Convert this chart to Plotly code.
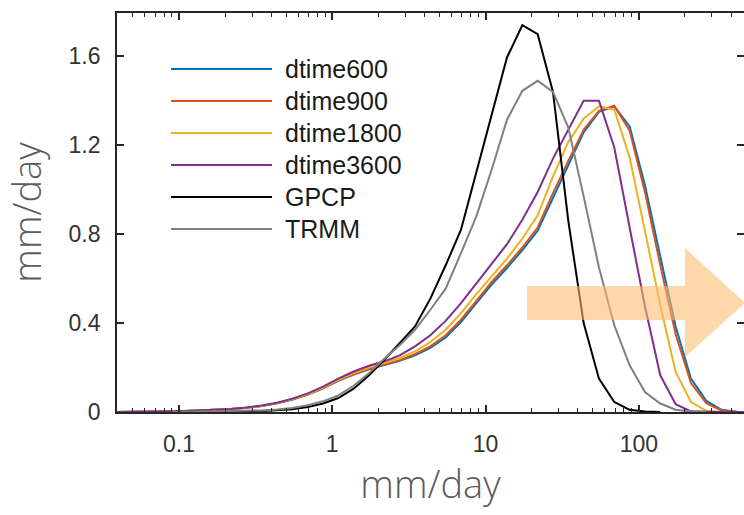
import plotly.graph_objects as go

# ---------------- data ----------------
rain_bins = [0.0347, 0.0437, 0.0550, 0.0692, 0.0871, 0.1096, 0.1380, 0.1738, 0.2188, 0.2754,
             0.3467, 0.4365, 0.5495, 0.6918, 0.8710, 1.096, 1.380, 1.738, 2.188, 2.754,
             3.467, 4.365, 5.495, 6.918, 8.710, 10.96, 13.80, 17.38, 21.88, 27.54,
             34.67, 43.65, 54.95, 69.18, 87.10, 109.6, 138.0, 173.8, 218.8, 275.4,
             346.7, 436.5, 549.5]

dtime600 = [0.000, 0.000, 0.001, 0.002, 0.003, 0.004, 0.006, 0.009, 0.013, 0.019,
            0.027, 0.039, 0.056, 0.078, 0.106, 0.140, 0.168, 0.192, 0.210, 0.230,
            0.255, 0.288, 0.335, 0.405, 0.490, 0.573, 0.648, 0.728, 0.815, 0.965,
            1.115, 1.258, 1.350, 1.375, 1.285, 1.020, 0.700, 0.385, 0.150, 0.050,
            0.010, 0.001, 0.000]
dtime900 = [0.000, 0.000, 0.001, 0.002, 0.003, 0.004, 0.006, 0.009, 0.013, 0.019,
            0.027, 0.039, 0.056, 0.079, 0.107, 0.142, 0.170, 0.194, 0.212, 0.233,
            0.260, 0.295, 0.345, 0.415, 0.500, 0.585, 0.660, 0.740, 0.830, 0.985,
            1.130, 1.270, 1.355, 1.378, 1.265, 0.990, 0.660, 0.350, 0.130, 0.040,
            0.007, 0.000, 0.000]
dtime1800 = [0.000, 0.000, 0.001, 0.002, 0.003, 0.004, 0.006, 0.009, 0.013, 0.019,
             0.027, 0.040, 0.058, 0.081, 0.110, 0.145, 0.175, 0.200, 0.220, 0.243,
             0.272, 0.315, 0.370, 0.445, 0.530, 0.610, 0.690, 0.780, 0.885, 1.060,
             1.215, 1.320, 1.375, 1.360, 1.145, 0.815, 0.480, 0.180, 0.045, 0.005,
             0.000, 0.000, 0.000]
dtime3600 = [0.000, 0.000, 0.001, 0.002, 0.003, 0.005, 0.007, 0.010, 0.014, 0.020,
             0.029, 0.042, 0.060, 0.084, 0.114, 0.150, 0.182, 0.208, 0.228, 0.255,
             0.295, 0.345, 0.410, 0.490, 0.580, 0.665, 0.755, 0.865, 0.990, 1.140,
             1.270, 1.400, 1.400, 1.190, 0.830, 0.476, 0.165, 0.035, 0.003, 0.000,
             0.000, 0.000, 0.000]
gpcp = [None, None, None, None, 0.000, 0.000, 0.001, 0.001, 0.002, 0.002,
        0.004, 0.007, 0.012, 0.022, 0.038, 0.063, 0.105, 0.165, 0.235, 0.310,
        0.385, 0.510, 0.660, 0.820, 1.080, 1.340, 1.595, 1.740, 1.700, 1.440,
        0.860, 0.400, 0.150, 0.045, 0.010, 0.002, 0.000, None, None, None,
        None, None, None]
trmm = [None, None, None, None, 0.000, 0.001, 0.001, 0.002, 0.003, 0.004,
        0.007, 0.011, 0.018, 0.030, 0.048, 0.075, 0.118, 0.175, 0.240, 0.300,
        0.370, 0.460, 0.555, 0.715, 0.880, 1.090, 1.315, 1.445, 1.490, 1.440,
        1.280, 0.970, 0.650, 0.390, 0.210, 0.090, 0.038, 0.010, 0.002, 0.000,
        None, None, None]

series_names = ["dtime600", "dtime900", "dtime1800", "dtime3600", "GPCP", "TRMM"]
series_values = [dtime600, dtime900, dtime1800, dtime3600, gpcp, trmm]
series_colors = ["#0072BD", "#D95319", "#EDB120", "#7E2F8E", "#000000", "#808080"]

x_tick_vals = [0.1, 1, 10, 100]
x_tick_text = ["0.1", "1", "10", "100"]
y_tick_vals = [0, 0.4, 0.8, 1.2, 1.6]
y_tick_text = ["0", "0.4", "0.8", "1.2", "1.6"]
axis_title = "mm/day"

# ---------------- figure ----------------
W, H = 744, 515
ML, MR, MT, MB = 117, 0, 13, 103

fig = go.Figure()
for name, vals, col in zip(series_names, series_values, series_colors):
    fig.add_trace(go.Scatter(x=rain_bins, y=vals, mode="lines", name=name,
                             line=dict(color=col, width=2), showlegend=False,
                             hoverinfo="x+y+name"))

axis_col = "#262626"
tick_font = dict(family="Liberation Sans, Arial, sans-serif", size=23, color="#333333")
title_font = dict(family="Open Sans, Liberation Sans, sans-serif", size=38,
                  color="#5c5c5c", weight=300)

fig.update_xaxes(type="log", range=[-1.404, 2.686],
                 tickvals=x_tick_vals, ticktext=x_tick_text,
                 ticks="inside", ticklen=7, tickwidth=1.5, tickcolor=axis_col,
                 minor=dict(ticks="inside", ticklen=4, tickwidth=1.2, tickcolor=axis_col,
                            dtick="D1", showgrid=False),
                 showline=True, linecolor=axis_col, linewidth=1.8, mirror="ticks",
                 showgrid=False, zeroline=False, tickfont=tick_font,
                 ticklabelstandoff=10,
                 title=dict(text=axis_title, font=title_font, standoff=16))
fig.update_yaxes(range=[0, 1.795],
                 tickvals=y_tick_vals, ticktext=y_tick_text,
                 ticks="inside", ticklen=7, tickwidth=1.5, tickcolor=axis_col,
                 showline=True, linecolor=axis_col, linewidth=1.8, mirror="ticks",
                 showgrid=False, zeroline=False, tickfont=tick_font,
                 ticklabelstandoff=10,
                 title=dict(text=axis_title, font=title_font, standoff=22))

# ---------------- manual legend (long line samples) ----------------
pw = W - ML - MR
ph = H - MT - MB
def px_x(px):
    return (px - ML) / pw
def px_y(py):
    return (H - MB - py) / ph

leg_x0, leg_x1, leg_tx = 171, 272, 283
leg_y0, leg_dy = 69, 32
shapes = []
annotations = []
for i, (name, col) in enumerate(zip(series_names, series_colors)):
    yy = px_y(leg_y0 + i * leg_dy)
    shapes.append(dict(type="line", xref="paper", yref="paper",
                       x0=px_x(leg_x0), x1=px_x(leg_x1), y0=yy, y1=yy,
                       line=dict(color=col, width=2)))
    annotations.append(dict(xref="paper", yref="paper", x=px_x(leg_tx), y=yy,
                            text=name, showarrow=False, xanchor="left", yanchor="middle",
                            font=dict(family="Liberation Sans, Arial, sans-serif",
                                      size=25, color="#1a1a1a")))

# ---------------- shift arrow (decoration) ----------------
ax0, ax1, axt = 527, 685, 745
ay_top, ay_bot, ah_top, ah_bot = 286, 320, 248, 357
ay_mid = (ay_top + ay_bot) / 2
path = (f"M {px_x(ax0)},{px_y(ay_top)} L {px_x(ax1)},{px_y(ay_top)} "
        f"L {px_x(ax1)},{px_y(ah_top)} L {px_x(axt)},{px_y(ay_mid)} "
        f"L {px_x(ax1)},{px_y(ah_bot)} L {px_x(ax1)},{px_y(ay_bot)} "
        f"L {px_x(ax0)},{px_y(ay_bot)} Z")
shapes.append(dict(type="path", xref="paper", yref="paper", path=path,
                   fillcolor="rgba(252,188,110,0.58)", line=dict(width=0),
                   layer="above"))

fig.update_layout(width=W, height=H,
                  margin=dict(l=ML, r=MR, t=MT, b=MB, autoexpand=False),
                  paper_bgcolor="white", plot_bgcolor="white",
                  shapes=shapes, annotations=annotations, showlegend=False)

fig.write_html("out.html", config={"displayModeBar": False},
               post_script="document.body.style.margin='0';document.body.style.overflow='hidden';")
